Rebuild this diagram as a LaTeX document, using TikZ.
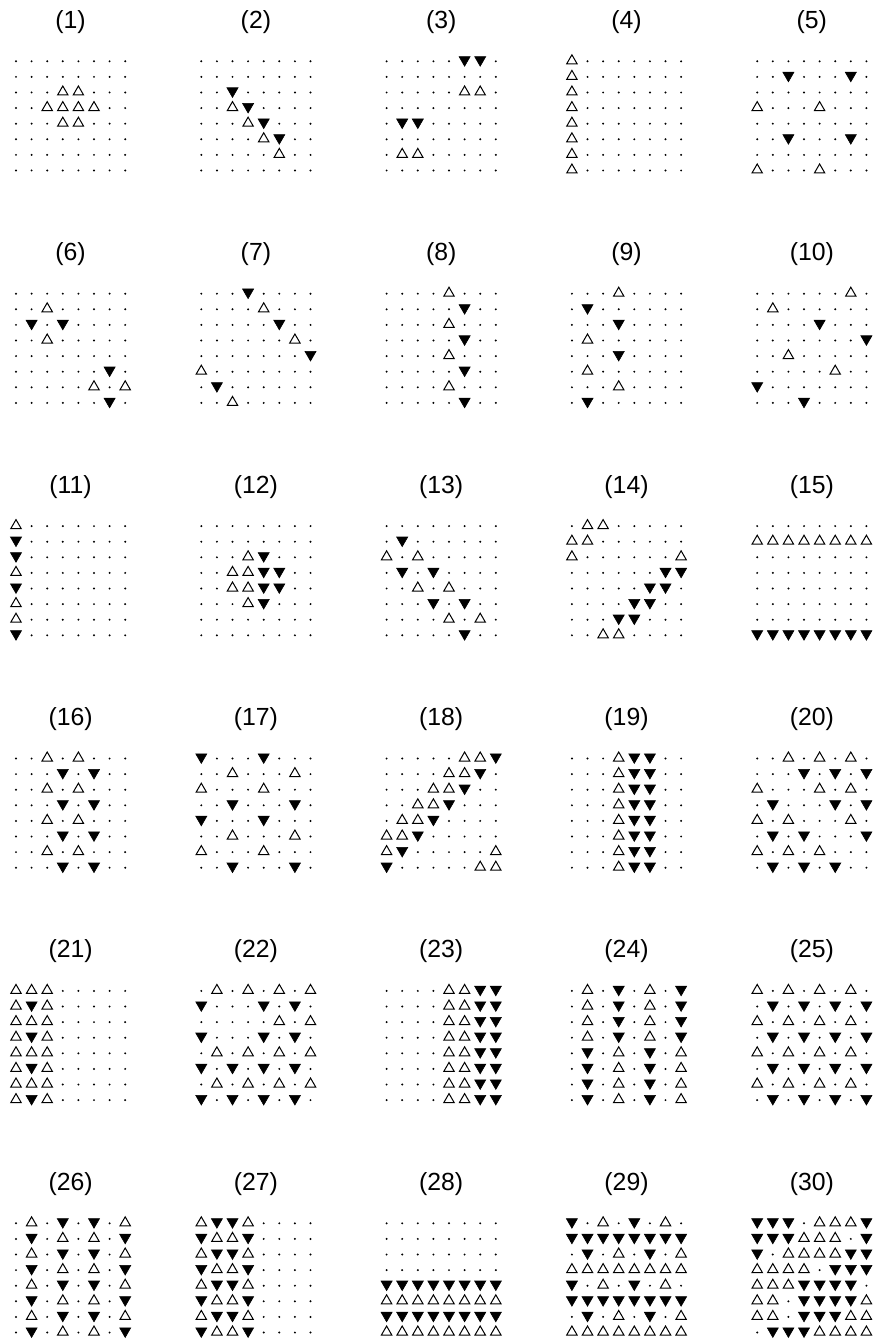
\documentclass[tikz,border=0pt]{standalone}
\usepackage{fontspec}
\setmainfont{Liberation Sans}
\usetikzlibrary{shapes.geometric}
\newcount\colcnt
\tikzset{
  dotnode/.style={circle,fill=black,inner sep=0pt,minimum size=1.1pt},
  upnode/.style={regular polygon,regular polygon sides=3,draw=black,line width=0.5pt,inner sep=0pt,minimum size=6pt,yshift=0.25pt},
  downnode/.style={regular polygon,regular polygon sides=3,shape border rotate=180,fill=black,draw=black,line width=0.3pt,inner sep=0pt,minimum size=6.4pt,yshift=0.75pt},
  paneltitle/.style={font=\fontsize{12.4}{14}\selectfont,anchor=base,inner sep=0pt}
}
\def\drawsym#1{%
  \edef\nm{p\pn-\ri-\the\colcnt}%
  \ifx#1u\node[upnode] (\nm) at ({\xo+15.6*(\the\colcnt-1)},{\yo+15.6*(\ri-1)}) {};\fi
  \ifx#1d\node[downnode] (\nm) at ({\xo+15.6*(\the\colcnt-1)},{\yo+15.6*(\ri-1)}) {};\fi
  \ifx#1o\node[dotnode] (\nm) at ({\xo+15.6*(\the\colcnt-1)},{\yo+15.6*(\ri-1)}) {};\fi}
\def\rowloop#1{\ifx#1\relax\else\global\advance\colcnt by 1\relax\drawsym{#1}\expandafter\rowloop\fi}
\newcommand\panel[4]{%
  \def\pn{#1}%
  \pgfmathsetmacro\xo{16+185.3*#2}%
  \pgfmathsetmacro\yo{61.3+232.4*#3}%
  \node[paneltitle] (t#1) at ({\xo+54.6},{\yo-33}) {(#1)};
  \foreach \rs [count=\ri] in {#4}{%
    \global\colcnt=0
    \expandafter\rowloop\rs\relax
  }%
}
\begin{document}
\begin{tikzpicture}[x=0.5pt,y=-0.5pt]
\path[fill=white] (0,0) rectangle (876,1342);
\useasboundingbox (0,0) rectangle (876,1342);
% row 1
\panel{1}{0}{0}{oooooooo,oooooooo,ooouuooo,oouuuuoo,ooouuooo,oooooooo,oooooooo,oooooooo}
\panel{2}{1}{0}{oooooooo,oooooooo,oodooooo,ooudoooo,oooudooo,ooooudoo,ooooouoo,oooooooo}
\panel{3}{2}{0}{oooooddo,oooooooo,ooooouuo,oooooooo,oddooooo,oooooooo,ouuooooo,oooooooo}
\panel{4}{3}{0}{uooooooo,uooooooo,uooooooo,uooooooo,uooooooo,uooooooo,uooooooo,uooooooo}
\panel{5}{4}{0}{oooooooo,oodooodo,oooooooo,uooouooo,oooooooo,oodooodo,oooooooo,uooouooo}
% row 2
\panel{6}{0}{1}{oooooooo,oouooooo,ododoooo,oouooooo,oooooooo,oooooodo,ooooouou,oooooodo}
\panel{7}{1}{1}{ooodoooo,oooouooo,ooooodoo,oooooouo,oooooood,uooooooo,odoooooo,oouooooo}
\panel{8}{2}{1}{oooouooo,ooooodoo,oooouooo,ooooodoo,oooouooo,ooooodoo,oooouooo,ooooodoo}
\panel{9}{3}{1}{ooouoooo,odoooooo,ooodoooo,ouoooooo,ooodoooo,ouoooooo,ooouoooo,odoooooo}
\panel{10}{4}{1}{oooooouo,ouoooooo,oooodooo,oooooood,oouooooo,ooooouoo,dooooooo,ooodoooo}
% row 3
\panel{11}{0}{2}{uooooooo,dooooooo,dooooooo,uooooooo,dooooooo,uooooooo,uooooooo,dooooooo}
\panel{12}{1}{2}{oooooooo,oooooooo,oooudooo,oouuddoo,oouuddoo,oooudooo,oooooooo,oooooooo}
\panel{13}{2}{2}{oooooooo,odoooooo,uouooooo,ododoooo,oououooo,ooododoo,oooououo,ooooodoo}
\panel{14}{3}{2}{ouuooooo,uuoooooo,uoooooou,oooooodd,oooooddo,ooooddoo,oooddooo,oouuoooo}
\panel{15}{4}{2}{oooooooo,uuuuuuuu,oooooooo,oooooooo,oooooooo,oooooooo,oooooooo,dddddddd}
% row 4
\panel{16}{0}{3}{oououooo,ooododoo,oououooo,ooododoo,oououooo,ooododoo,oououooo,ooododoo}
\panel{17}{1}{3}{dooodooo,oouooouo,uooouooo,oodooodo,dooodooo,oouooouo,uooouooo,oodooodo}
\panel{18}{2}{3}{ooooouud,oooouudo,ooouudoo,oouudooo,ouudoooo,uudooooo,udooooou,dooooouu}
\panel{19}{3}{3}{ooouddoo,ooouddoo,ooouddoo,ooouddoo,ooouddoo,ooouddoo,ooouddoo,ooouddoo}
\panel{20}{4}{3}{oouououo,ooododod,uooououo,odooodod,uouooouo,ododoood,uououooo,odododoo}
% row 5
\panel{21}{0}{4}{uuuooooo,uduooooo,uuuooooo,uduooooo,uuuooooo,uduooooo,uuuooooo,uduooooo}
\panel{22}{1}{4}{ouououou,dooododo,ooooouou,dooododo,ouououou,dodododo,ouououou,dodododo}
\panel{23}{2}{4}{oooouudd,oooouudd,oooouudd,oooouudd,oooouudd,oooouudd,oooouudd,oooouudd}
\panel{24}{3}{4}{ouodouod,ouodouod,ouodouod,ouodouod,odouodou,odouodou,odouodou,odouodou}
\panel{25}{4}{4}{uouououo,odododod,uouououo,odododod,uouououo,odododod,uouououo,odododod}
% row 6
\panel{26}{0}{5}{ouododou,odououod,ouododou,odououod,ouododou,odououod,ouododou,odououod}
\panel{27}{1}{5}{udduoooo,duudoooo,udduoooo,duudoooo,udduoooo,duudoooo,udduoooo,duudoooo}
\panel{28}{2}{5}{oooooooo,oooooooo,oooooooo,oooooooo,dddddddd,uuuuuuuu,dddddddd,uuuuuuuu}
\panel{29}{3}{5}{douodouo,dddddddd,odouodou,uuuuuuuu,douodouo,dddddddd,odouodou,uuuuuuuu}
\panel{30}{4}{5}{dddouuud,ddduuuod,douuuudd,uuuuoddd,uuuddddo,uuoddddu,uuoddduu,oddduuuu}
\end{tikzpicture}
\end{document}
